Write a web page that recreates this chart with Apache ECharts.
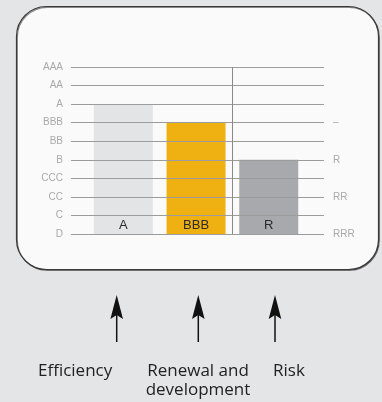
<!DOCTYPE html>
<html>
<head>
<meta charset="utf-8">
<script src="https://cdn.jsdelivr.net/npm/echarts@6/dist/echarts.min.js"></script>
<style>
  html, body { margin: 0; padding: 0; background: #e4e5e7; }
  #main { width: 382px; height: 402px; }
</style>
</head>
<body>
<div id="main"></div>
<script>
// rating scale, bottom to top
var grades = ['D', 'C', 'CC', 'CCC', 'B', 'BB', 'BBB', 'A', 'AA', 'AAA'];
var rightLabels = ['RRR', '', 'RR', '', 'R', '', '–', '', '', ''];

// bars
var barPos = [1, 2, 3];
var barValues = [7, 6, 4];
var barLabels = ['A', 'BBB', 'R'];
var barColors = ['#e3e4e6', '#eeb111', '#a8a9ac'];

// annotations under the panel
var arrowX = [116.7, 198.3, 275];
var captions = ['Efficiency', 'Renewal and\ndevelopment', 'Risk'];

var myChart = echarts.init(document.getElementById('main'));

var data = barPos.map(function (x, i) {
    return { value: [x, barValues[i]], itemStyle: { color: barColors[i] } };
});

var graphics = [{
    type: 'rect',
    z: 0,
    shape: { x: 16.5, y: 6.5, width: 362, height: 263, r: 30 },
    style: {
        fill: '#fafafa', stroke: '#3a3a3a', lineWidth: 1.2,
        shadowColor: 'rgba(0,0,0,0.45)', shadowOffsetX: 0.8, shadowOffsetY: 0.8, shadowBlur: 0.5
    }
}];

arrowX.forEach(function (x) {
    graphics.push({
        type: 'line',
        shape: { x1: x, y1: 314, x2: x, y2: 342 },
        style: { stroke: '#111', lineWidth: 1.5 }
    });
    graphics.push({
        type: 'polygon',
        shape: { points: [[x, 295], [x - 6.3, 319], [x, 315], [x + 6.3, 319]] },
        style: { fill: '#111' }
    });
});

var capFont = { fontFamily: 'Open Sans', fontSize: 17, fill: '#222' };
graphics.push({
    type: 'text', x: 38, y: 371,
    style: Object.assign({ text: captions[0], align: 'left', verticalAlign: 'middle' }, capFont)
});
graphics.push({
    type: 'text', x: 198, y: 362,
    style: Object.assign({ text: captions[1], align: 'center', verticalAlign: 'top', lineHeight: 19 }, capFont)
});
graphics.push({
    type: 'text', x: 273, y: 371,
    style: Object.assign({ text: captions[2], align: 'left', verticalAlign: 'middle' }, capFont)
});

var option = {
    backgroundColor: '#e4e5e7',
    animation: false,
    graphic: graphics,
    grid: { left: 71, right: 58, top: 67, height: 167 },
    xAxis: {
        type: 'value',
        min: 0.28,
        max: 3.76,
        show: false
    },
    yAxis: [{
        type: 'value',
        min: 0,
        max: 9,
        interval: 1,
        z: 3,
        axisLine: { show: false },
        axisTick: { show: false },
        axisLabel: {
            margin: 8,
            color: '#a9a9a9',
            fontSize: 10,
            fontFamily: 'Liberation Sans',
            formatter: function (v) { return grades[v]; }
        },
        splitLine: { lineStyle: { color: '#9c9c9c', width: 1 } }
    }, {
        type: 'value',
        min: 0,
        max: 9,
        interval: 1,
        position: 'right',
        axisLine: { show: false },
        axisTick: { show: false },
        splitLine: { show: false },
        axisLabel: {
            margin: 9,
            color: '#a9a9a9',
            fontSize: 10,
            fontFamily: 'Liberation Sans',
            formatter: function (v) { return rightLabels[v]; }
        }
    }],
    series: [{
        type: 'bar',
        data: data,
        barWidth: 59,
        label: {
            show: true,
            position: 'insideBottom',
            distance: 2,
            color: '#2a2a2a',
            fontSize: 13,
            fontFamily: 'Liberation Sans',
            formatter: function (p) { return barLabels[p.dataIndex]; }
        },
        markLine: {
            silent: true,
            symbol: 'none',
            label: { show: false },
            lineStyle: { color: '#8a8a8a', width: 1, type: 'solid' },
            data: [[{ coord: [2.5, 0] }, { coord: [2.5, 9] }]]
        }
    }]
};

myChart.setOption(option);
</script>
</body>
</html>
